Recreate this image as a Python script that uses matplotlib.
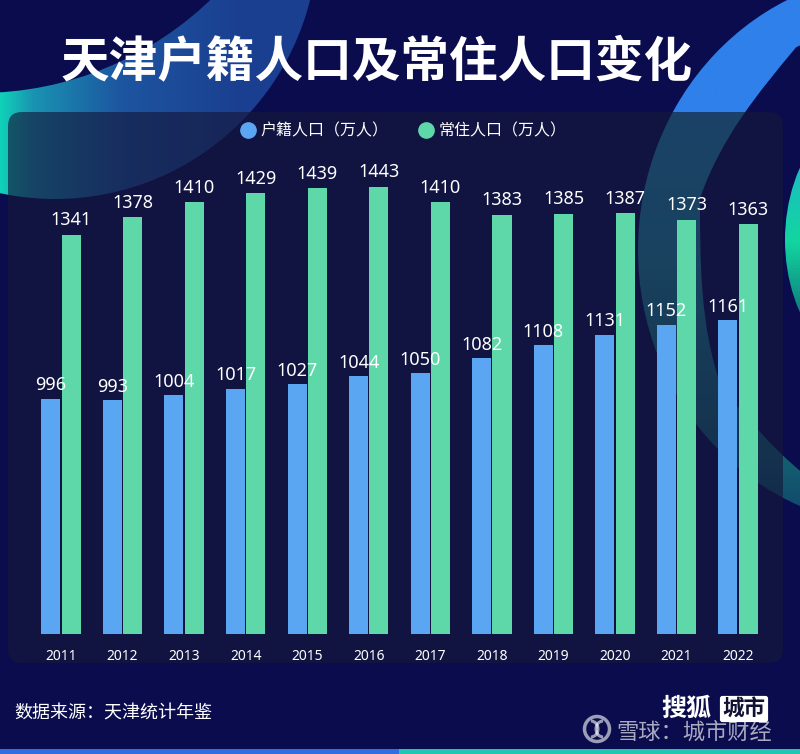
import matplotlib
matplotlib.use('Agg')
import matplotlib.pyplot as plt
import numpy as np
from matplotlib.colors import LinearSegmentedColormap
from matplotlib.patches import FancyBboxPatch, Circle, Ellipse, Rectangle, PathPatch, Arc
from matplotlib.path import Path
from matplotlib.lines import Line2D

plt.rcParams['font.family'] = ['Noto Sans CJK SC', 'DejaVu Sans']
NUM_FONT = ['Noto Sans', 'DejaVu Sans']

# data
years = ['2011', '2012', '2013', '2014', '2015', '2016',
         '2017', '2018', '2019', '2020', '2021', '2022']
huji = [996, 993, 1004, 1017, 1027, 1044, 1050, 1082, 1108, 1131, 1152, 1161]
changzhu = [1341, 1378, 1410, 1429, 1439, 1443, 1410, 1383, 1385, 1387, 1373, 1363]
series_names = ['户籍人口（万人）', '常住人口（万人）']

BG = '#0a0c4e'
PANEL = '#15173a'
BLUE = '#5aa6f2'
GREEN = '#5fd8a9'

W, H = 800, 754
fig = plt.figure(figsize=(W / 100, H / 100), dpi=100)
fig.patch.set_facecolor(BG)

# background layer in pixel coordinates
bg = fig.add_axes([0, 0, 1, 1], zorder=0)
bg.set_facecolor(BG)
bg.axis('off')


def grad_fill(patch, stops, horizontal=True, zorder=1.0):
    # gradient image clipped to a patch
    patch.set_facecolor('none')
    patch.set_edgecolor('none')
    bg.add_patch(patch)
    g = np.linspace(0, 1, 512)
    img = g[None, :] if horizontal else g[:, None]
    cmap = LinearSegmentedColormap.from_list('g', stops)
    im = bg.imshow(img, extent=(0, W, H, 0), cmap=cmap, aspect='auto',
                   zorder=zorder, interpolation='bilinear')
    im.set_clip_path(patch)


def ring_path(c1, a1, b1, c2, a2, b2):
    e1 = Ellipse(c1, 2 * a1, 2 * b1)
    e2 = Ellipse(c2, 2 * a2, 2 * b2)
    p1 = e1.get_patch_transform().transform_path(e1.get_path())
    p2 = e2.get_patch_transform().transform_path(e2.get_path())
    verts = np.concatenate([p1.vertices, p2.vertices[::-1]])
    codes = np.concatenate([p1.codes, p2.codes])
    return Path(verts, codes)


# top-left band
outer = Circle((55, -64), 263)
grad_fill(outer, [(0, '#10d0b8'), (0.04, '#1993b2'), (0.15, '#1d55a0'),
                  (0.3, '#1b3f90'), (1, '#1b3f90')], horizontal=True, zorder=1)
bg.add_patch(Circle((-21, -241), 334, facecolor=BG, edgecolor='none', zorder=1.5))

# right ring, blue above the panel, teal inside it, fading out below
ring = PathPatch(ring_path((900, 250), 262, 277, (900, 262), 200, 240))
grad_fill(ring, [(0, '#2f80ea'), (0.147, '#2f80ea'), (0.15, '#2590b8'),
                 (0.35, '#1f8fa0'), (0.6, '#146272'), (0.78, '#0e2a62'), (1, BG)],
          horizontal=False, zorder=1)

# small green arc at the right edge
small = PathPatch(ring_path((905, 240), 120, 150, (910, 240), 108, 140))
grad_fill(small, [(0, '#2f80ea'), (0.2, '#1fb8c8'), (0.32, '#12d6a0'),
                  (0.45, '#0f5a70'), (1, BG)], horizontal=False, zorder=1)

# chart panel
panel = FancyBboxPatch((8, 112), 775, 551, boxstyle='round,pad=0,rounding_size=14',
                       facecolor=PANEL, edgecolor='none', alpha=0.64, zorder=2)
bg.add_patch(panel)

# bottom strip
bg.add_patch(Rectangle((0, 749), 399, 5, facecolor='#2f6fe0', edgecolor='none', zorder=3))
bg.add_patch(Rectangle((399, 749), 401, 5, facecolor='#1ec8b0', edgecolor='none', zorder=3))

# watermark logo
bg.add_patch(Circle((597, 729), 12.5, facecolor='none', edgecolor='white',
                    linewidth=2.5, alpha=0.6, zorder=5))
bg.add_patch(Arc((591, 729), 14, 16, theta1=-90, theta2=90, edgecolor='white',
                 linewidth=2.2, alpha=0.6, zorder=5))
bg.add_patch(Arc((603, 729), 14, 16, theta1=90, theta2=270, edgecolor='white',
                 linewidth=2.2, alpha=0.6, zorder=5))

bg.set_xlim(0, W)
bg.set_ylim(H, 0)

# title and footer
bg.text(377, 62, '天津户籍人口及常住人口变化', color='white', fontsize=35,
        fontweight='bold', ha='center', va='center', zorder=5)
bg.text(14, 714, '数据来源：天津统计年鉴', color='white', fontsize=13,
        ha='left', va='center', zorder=5)
bg.text(686, 709, '搜狐', color='white', fontsize=18, fontweight='bold',
        ha='center', va='center', zorder=5)
bg.text(744, 709, '城市', color='#111133', fontsize=15.5, fontweight='bold',
        ha='center', va='center', zorder=5,
        bbox=dict(boxstyle='round,pad=0.12', facecolor='white', edgecolor='none'))
bg.text(616, 732, '雪球：城市财经', color='white', alpha=0.65, fontsize=16,
        ha='left', va='center', zorder=5)

# main chart
ax = fig.add_axes([8 / W, 1 - 634 / H, 775 / W, 522 / H], zorder=1)
ax.patch.set_alpha(0)
x = np.arange(len(years))
bw = 0.31
off = 0.165
b1 = ax.bar(x - off, huji, bw, color=BLUE, zorder=2, label=series_names[0])
b2 = ax.bar(x + off, changzhu, bw, color=GREEN, zorder=2, label=series_names[1])

for rect, v in zip(b1, huji):
    ax.annotate(str(v), (rect.get_x() + rect.get_width() / 2, v), xytext=(0, 3),
                textcoords='offset points', ha='center', va='bottom',
                color='white', fontsize=13, family=NUM_FONT, zorder=4)
for rect, v in zip(b2, changzhu):
    ax.annotate(str(v), (rect.get_x() + rect.get_width() / 2, v), xytext=(0, 4),
                textcoords='offset points', ha='center', va='bottom',
                color='white', fontsize=13, family=NUM_FONT, zorder=4)

ax.set_xlim(-0.861, 11.73)
ax.set_ylim(500, 1600)
ax.set_xticks(x, years)
ax.set_yticks([])
ax.tick_params(axis='x', length=0, pad=11, labelsize=10, labelcolor='white')
for t in ax.get_xticklabels():
    t.set_family(NUM_FONT)
for s in ax.spines.values():
    s.set_visible(False)

handles = [Line2D([], [], marker='o', linestyle='none', markersize=11, color=BLUE),
           Line2D([], [], marker='o', linestyle='none', markersize=11, color=GREEN)]
leg = ax.legend(handles, series_names, loc='center', bbox_to_anchor=(0.51, 0.963),
                ncol=2, frameon=False, fontsize=11.5, handletextpad=0.3,
                columnspacing=1.8, handlelength=1.0)
for t in leg.get_texts():
    t.set_color('white')

fig.savefig('out.png', dpi=100, facecolor=BG)
